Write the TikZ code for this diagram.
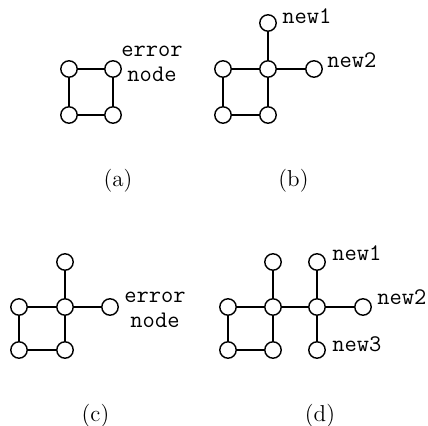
\documentclass[tikz,border=0pt]{standalone}
\usepackage{fontspec}
\begin{document}
\begin{tikzpicture}[x=0.5pt,y=-0.5pt,
  vtx/.style={circle,draw,line width=0.7pt,fill=white,minimum size=8.2pt,inner sep=0pt},
  edge/.style={line width=0.7pt},
  lbl/.style={font=\ttfamily\fontsize{11.9}{12.5}\selectfont,inner sep=0pt},
  captext/.style={font=\fontsize{11.5}{13}\selectfont,inner sep=0pt}]
\useasboundingbox (0,0) rectangle (428,426);
% (a)
\node[vtx] (a1) at (69,69) {};
\node[vtx] (a2) at (113,69) {};
\node[vtx] (a3) at (69,115) {};
\node[vtx] (a4) at (113,115) {};
\draw[edge] (a1) -- (a2) (a1) -- (a3) (a2) -- (a4) (a3) -- (a4);
\node[lbl,align=center] (aerr) at (152,64) {error\\node};
\node[captext] (capa) at (118,181) {(a)};
% (b)
\node[vtx] (b1) at (223,69) {};
\node[vtx] (b2) at (268,69) {};
\node[vtx] (b3) at (314,69) {};
\node[vtx] (b4) at (268,23) {};
\node[vtx] (b5) at (223,115) {};
\node[vtx] (b6) at (268,115) {};
\draw[edge] (b1) -- (b2) (b1) -- (b5) (b2) -- (b6) (b5) -- (b6) (b2) -- (b3) (b2) -- (b4);
\node[lbl,anchor=base west] (bn1) at (282,24) {new1};
\node[lbl,anchor=base west] (bn2) at (327,68) {new2};
\node[captext] (capb) at (293.5,181) {(b)};
% (c)
\node[vtx] (c1) at (19,307) {};
\node[vtx] (c2) at (65,307) {};
\node[vtx] (c3) at (110,307) {};
\node[vtx] (c4) at (65,262) {};
\node[vtx] (c5) at (19,350) {};
\node[vtx] (c6) at (65,350) {};
\draw[edge] (c1) -- (c2) (c1) -- (c5) (c2) -- (c6) (c5) -- (c6) (c2) -- (c3) (c2) -- (c4);
\node[lbl,align=center] (cerr) at (155,310) {error\\node};
\node[captext] (capc) at (95.5,416) {(c)};
% (d)
\node[vtx] (d1) at (228,307) {};
\node[vtx] (d2) at (273,307) {};
\node[vtx] (d3) at (317,307) {};
\node[vtx] (d4) at (363,307) {};
\node[vtx] (d5) at (273,262) {};
\node[vtx] (d6) at (317,262) {};
\node[vtx] (d7) at (228,350) {};
\node[vtx] (d8) at (273,350) {};
\node[vtx] (d9) at (317,350) {};
\draw[edge] (d1) -- (d2) (d1) -- (d7) (d2) -- (d8) (d7) -- (d8) (d2) -- (d5) (d2) -- (d3)
  (d3) -- (d6) (d3) -- (d4) (d3) -- (d9);
\node[lbl,anchor=base west] (dn1) at (332,261) {new1};
\node[lbl,anchor=base west] (dn2) at (377,305) {new2};
\node[lbl,anchor=base west] (dn3) at (332,352) {new3};
\node[captext] (capd) at (320,416) {(d)};
\end{tikzpicture}
\end{document}
